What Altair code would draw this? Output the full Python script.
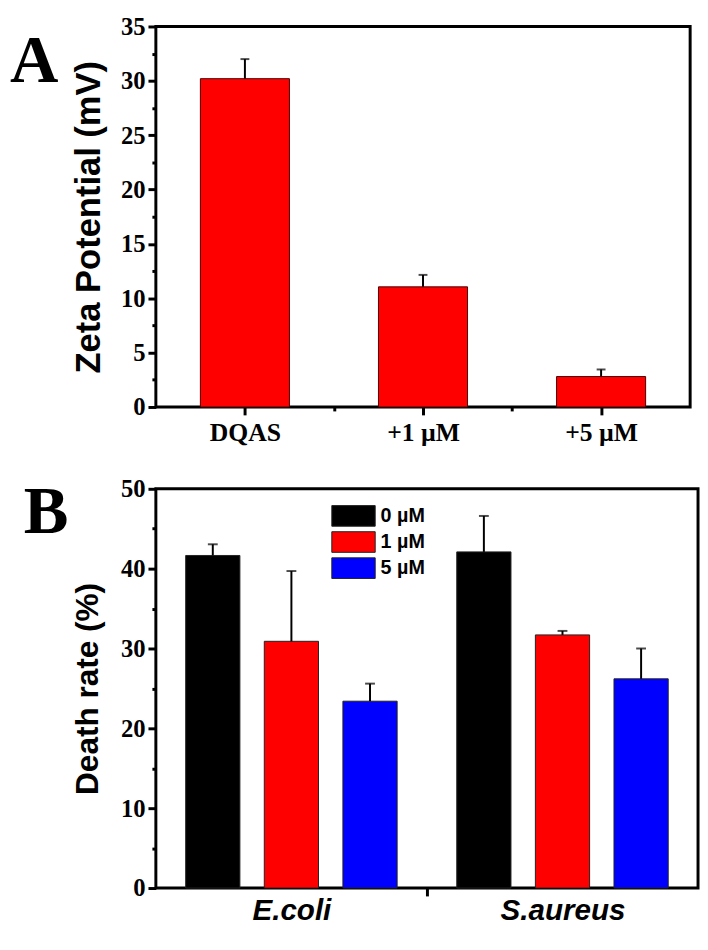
import json
import altair as alt
import pandas as pd

# ---------------- Panel A data ----------------
a_categories = ["DQAS", "+1 µM", "+5 µM"]
a_values = [30.2, 11.05, 2.8]
a_errors = [1.8, 1.1, 0.65]

# ---------------- Panel B data ----------------
b_groups = ["E.coli", "S.aureus"]
b_concs = ["0 µM", "1 µM", "5 µM"]
b_values_0 = [41.65, 42.1]
b_values_1 = [30.9, 31.7]
b_values_5 = [23.4, 26.2]
b_errors_0 = [1.4, 4.5]
b_errors_1 = [8.8, 0.5]
b_errors_5 = [2.2, 3.8]
b_colors = ["#000000", "#ff0000", "#0000ff"]

panel_labels = ["A", "B"]

dfA = pd.DataFrame({"category": a_categories, "value": a_values, "err": a_errors})
dfA["pos"] = list(range(1, len(a_categories) + 1))

rows = []
b_vals = [b_values_0, b_values_1, b_values_5]
b_errs = [b_errors_0, b_errors_1, b_errors_5]
for gi, g in enumerate(b_groups):
    for ci, c in enumerate(b_concs):
        rows.append({"group": g, "conc": c, "gi": gi + 1, "ci": ci,
                     "value": b_vals[ci][gi], "err": b_errs[ci][gi]})
dfB = pd.DataFrame(rows)

SERIF = "Liberation Serif"
SANS = "Liberation Sans"


def panel_letter(letter, x, y):
    return alt.Chart(pd.DataFrame({"letter": [letter]})).mark_text(
        font=SERIF, fontSize=68, fontWeight="bold", color="black",
        align="left", baseline="alphabetic").encode(
        text="letter:N", x=alt.value(x), y=alt.value(y))


# ---------------- Panel A ----------------
labA = ("datum.value % 1 === 0 ? " + json.dumps(a_categories, ensure_ascii=False)
        + "[datum.value - 1] : ''")
xA_axis = alt.Axis(values=[1, 1.5, 2, 2.5, 3], labelExpr=labA, title=None, domain=False,
                   grid=False, tickColor="black", tickWidth=3,
                   tickSize={"condition": {"test": "datum.value % 1 === 0", "value": 8}, "value": 4},
                   labelFont=SERIF, labelFontWeight="bold", labelFontSize=26,
                   labelColor="black", labelPadding=5, labelOverlap=False)
yA_axis = alt.Axis(values=[i * 2.5 for i in range(15)],
                   labelExpr="datum.value % 5 === 0 ? datum.label : ''",
                   title="Zeta Potential (mV)", titleFont=SANS, titleFontWeight="bold",
                   titleFontSize=35, titleColor="black", titlePadding=14,
                   domain=False, grid=False, tickColor="black", tickWidth=3,
                   tickSize={"condition": {"test": "datum.value % 5 === 0", "value": 8}, "value": 4},
                   labelFont=SERIF, labelFontWeight="bold", labelFontSize=25,
                   labelColor="black", labelPadding=3, labelOverlap=False)
xA_scale = alt.Scale(domain=[0.5, 3.5], nice=False, zero=False)
yA_scale = alt.Scale(domain=[0, 35], nice=False)

baseA = alt.Chart(dfA).transform_calculate(
    lo="datum.pos - 0.25", hi="datum.pos + 0.25", top="datum.value + datum.err")

barsA = baseA.mark_bar(color="#ff0000", stroke="#4a0000", strokeWidth=1).encode(
    x=alt.X("lo:Q", scale=xA_scale, axis=xA_axis),
    x2="hi:Q",
    y=alt.Y("value:Q", scale=yA_scale, axis=yA_axis),
    y2=alt.datum(0),
)
ruleA = baseA.mark_rule(color="black", strokeWidth=2).encode(
    x=alt.X("pos:Q", scale=xA_scale, axis=xA_axis),
    y=alt.Y("value:Q", scale=yA_scale, axis=yA_axis), y2="top:Q")
capA = baseA.mark_tick(orient="horizontal", color="black", thickness=2, size=9).encode(
    x=alt.X("pos:Q", scale=xA_scale, axis=xA_axis),
    y=alt.Y("top:Q", scale=yA_scale, axis=yA_axis))

chartA = alt.layer(barsA, ruleA, capA, panel_letter(panel_labels[0], -148, 56)).properties(
    width=542, height=386)

# ---------------- Panel B ----------------
labB = ("datum.value % 1 === 0 ? " + json.dumps(b_groups, ensure_ascii=False)
        + "[datum.value - 1] : ''")
xB_axis = alt.Axis(values=[1, 1.5, 2], labelExpr=labB, title=None, domain=False,
                   grid=False, tickColor="black", tickWidth=3,
                   tickSize={"condition": {"test": "datum.value === 1.5", "value": 8}, "value": 0},
                   labelFont=SANS, labelFontWeight="bold", labelFontStyle="italic",
                   labelFontSize=30, labelColor="black", labelPadding=8, labelOverlap=False)
yB_axis = alt.Axis(values=[i * 5 for i in range(11)],
                   labelExpr="datum.value % 10 === 0 ? datum.label : ''",
                   title="Death rate (%)", titleFont=SANS, titleFontWeight="bold",
                   titleFontSize=32, titleColor="black", titlePadding=16,
                   domain=False, grid=False, tickColor="black", tickWidth=3,
                   tickSize={"condition": {"test": "datum.value % 10 === 0", "value": 8}, "value": 4},
                   labelFont=SERIF, labelFontWeight="bold", labelFontSize=25,
                   labelColor="black", labelPadding=3, labelOverlap=False)
xB_scale = alt.Scale(domain=[0.5, 2.5], nice=False, zero=False)
yB_scale = alt.Scale(domain=[0, 50], nice=False)

baseB = alt.Chart(dfB).transform_calculate(
    pos="datum.gi + (datum.ci - 1) * 0.29").transform_calculate(
    lo="datum.pos - 0.1", hi="datum.pos + 0.1", top="datum.value + datum.err")

barsB = baseB.mark_bar(stroke="#222222", strokeWidth=1).encode(
    x=alt.X("lo:Q", scale=xB_scale, axis=xB_axis),
    x2="hi:Q",
    y=alt.Y("value:Q", scale=yB_scale, axis=yB_axis),
    y2=alt.datum(0),
    color=alt.Color("conc:N", scale=alt.Scale(domain=b_concs, range=b_colors),
                    legend=alt.Legend(orient="none", legendX=178, legendY=16, title=None,
                                      symbolType="M-2,-0.95H2V0.95H-2Z", symbolSize=484,
                                      symbolOffset=11,
                                      symbolStrokeColor="#222222", symbolStrokeWidth=1,
                                      symbolOpacity=1,
                                      labelFont=SANS, labelFontWeight="bold",
                                      labelFontSize=20, labelColor="black",
                                      rowPadding=1.5, labelOffset=16)),
)
ruleB = baseB.mark_rule(color="black", strokeWidth=2).encode(
    x=alt.X("pos:Q", scale=xB_scale, axis=xB_axis),
    y=alt.Y("value:Q", scale=yB_scale, axis=yB_axis), y2="top:Q")
capB = baseB.mark_tick(orient="horizontal", color="black", thickness=2, size=10).encode(
    x=alt.X("pos:Q", scale=xB_scale, axis=xB_axis),
    y=alt.Y("top:Q", scale=yB_scale, axis=yB_axis))

chartB = alt.layer(barsB, ruleB, capB, panel_letter(panel_labels[1], -134, 45)).properties(
    width=550, height=405)

chart = alt.concat(chartA, chartB, columns=1, spacing=28, align="none").properties(
    padding={"left": 0, "top": -2, "right": 0, "bottom": 0},
    autosize=alt.AutoSizeParams(type="pad"),
).resolve_legend(color="independent").configure_view(stroke="black", strokeWidth=3)

chart.save("out.html", embed_options={"renderer": "svg", "actions": False})
